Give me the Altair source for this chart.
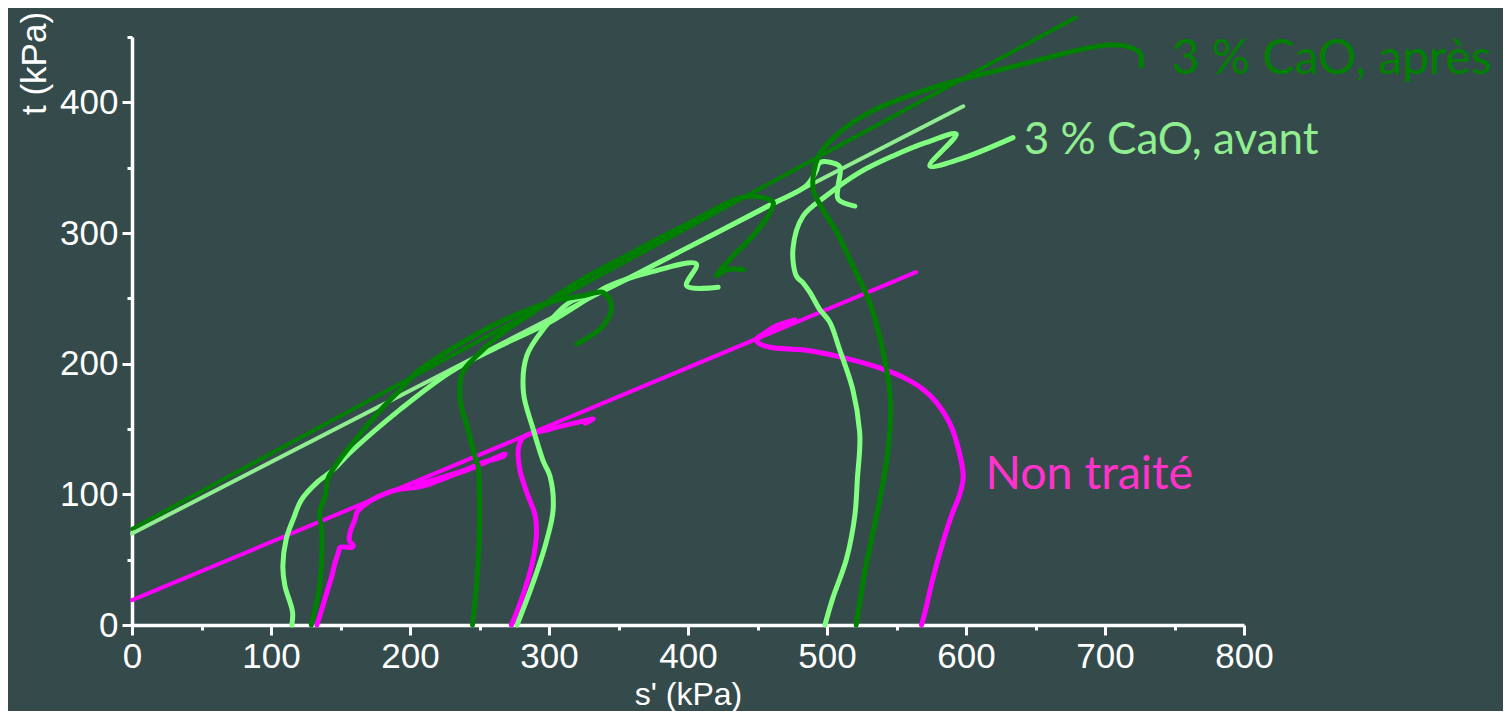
import altair as alt
import pandas as pd

# ---------------- data (s' , t in kPa) ----------------
# failure envelopes
nt_line_s = [0, 564]
nt_line_t = [19, 270]
av_line_s = [0, 598]
av_line_t = [70, 397]
ap_line_s = [0, 679]
ap_line_t = [73.5, 465]

# Non traite stress paths
nt1_s = [133, 136.6, 140.2, 143.8, 146.2, 148.5, 149.7, 158.2, 159.3, 156.4, 156.9, 160.5, 161.8, 166.5,
         176.1, 188.1, 193, 209.4, 228.8, 248.2, 268.4, 267, 252.8, 238.4, 219.3, 205]
nt1_t = [0, 12.2, 25, 37.7, 48, 55.6, 59.4, 59.4, 60.7, 64.5, 70.9, 81.1, 86.2, 91.3,
         97.7, 102.8, 104, 106.3, 114, 121.6, 130.8, 129, 124.5, 118.1, 111.7, 107.5]
nt2_s = [273, 281, 288.5, 291, 290, 284, 279, 278, 281.6, 301, 324.6, 332, 326]
nt2_t = [0, 22, 50, 71, 84, 101.5, 119, 135, 143.8, 150, 156, 157.6, 154.5]
nt3_s = [568, 571, 576, 583, 590, 595.5, 598, 594, 588, 578.6, 569, 554.6, 540, 516, 487.6, 459, 451, 449.5,
         454.6, 463.6, 477, 470]
nt3_t = [0, 12, 35, 62, 85, 100, 114, 137, 155, 170.6, 180.5, 189.7, 196, 203.5, 209.9, 212.6, 215.5, 219,
         223, 229, 233.6, 231]

# 3 % CaO, avant stress paths
av1_s = [115, 115.5, 110, 108.5, 111, 116, 122, 133, 145, 157, 193, 229, 265, 300.6, 334, 341, 373, 406,
         399, 421.7]
av1_t = [0, 10, 30, 45, 66, 81, 96, 109, 119, 132, 165, 193.6, 213.7, 231.8, 254, 258.5, 270, 276.2,
         259.6, 258.4]
av2_s = [277, 288.6, 298, 303, 300.7, 296, 288.6, 281.6, 284, 296, 315, 337, 400, 460, 485, 492, 495,
         509, 508, 508, 520]
av2_t = [0, 32.6, 63.5, 88.7, 114, 125, 150, 178, 206, 226.5, 247, 255, 289, 322, 336, 347, 354,
         351, 336, 326, 320.6]
av3_s = [498.5, 504, 514, 520, 522, 523.5, 523.5, 518.5, 509, 502, 494.6, 487.6, 482.6, 478, 475.5,
         482.8, 499.5, 523.5, 547.5, 571.5, 593, 574, 595.5, 633.8]
av3_t = [0, 20, 50.5, 83.6, 114, 134.6, 147.6, 180.5, 211, 231.8, 241.8, 254.7, 262, 267, 287.7,
         313, 328.5, 346.4, 359, 369.3, 375.7, 351.4, 356.5, 373]

# 3 % CaO, apres stress paths
ap1_s = [129, 135, 136.6, 135, 139, 141, 149.7, 164, 181, 193, 205, 233.6, 264.7, 300.6, 324.5, 339,
         345, 339, 320]
ap1_t = [0, 30, 71, 86, 99, 112, 127, 146, 167, 180, 193.6, 213.7, 231.8, 247, 252, 254.5,
         244, 229, 215]
ap2_s = [245, 248, 250, 250, 249, 248, 241, 236, 238, 248, 267, 288.6, 320, 360, 400, 442, 461.3,
         459, 446.9, 432.5, 420.5, 428, 440]
ap2_t = [0, 33, 73, 99, 122, 124.6, 152.5, 173, 193.6, 206, 224, 239.5, 262, 285, 307, 328, 323.4,
         315.8, 297.9, 282.6, 267.3, 272, 272]
ap3_s = [521, 528, 538, 544, 545.6, 540, 530.7, 518.5, 507, 497, 490, 494, 509, 531, 552.5, 588, 612,
         636, 660, 684, 703, 715, 725, 726]
ap3_t = [0, 45, 96, 134.6, 173, 211, 247, 275, 300.6, 318, 334, 359, 377, 392.5, 402.5, 415, 421.6,
         428, 434.6, 440.7, 443.8, 443, 438, 428]

# annotation labels
label_text = ["Non traité", "3 % CaO, avant", "3 % CaO, après"]
label_s = [614, 641.5, 748]
label_t = [104, 360.5, 421.6]

x_ticks = list(range(0, 801, 50))
y_ticks = list(range(0, 451, 50))

# ---------------- styling ----------------
BG = "#354B4B"
MAG = "#FF00FF"
LGP = "#80FF80"
LGL = "#90EE90"
DG = "#008000"

envelopes = {"nt_line": (nt_line_s, nt_line_t), "av_line": (av_line_s, av_line_t),
             "ap_line": (ap_line_s, ap_line_t)}
paths = {"nt1": (nt1_s, nt1_t), "nt2": (nt2_s, nt2_t), "nt3": (nt3_s, nt3_t),
         "av1": (av1_s, av1_t), "av2": (av2_s, av2_t), "av3": (av3_s, av3_t),
         "ap1": (ap1_s, ap1_t), "ap2": (ap2_s, ap2_t), "ap3": (ap3_s, ap3_t)}

color_domain = ["nt_line", "av_line", "ap_line", "nt1", "nt2", "nt3", "av1", "av2", "av3", "ap1", "ap2", "ap3"]
color_range = [MAG, LGL, DG, MAG, MAG, MAG, LGP, LGP, LGP, DG, DG, DG]


def frame(d):
    rows = []
    for name, (ss, tt) in d.items():
        for i, (s, t) in enumerate(zip(ss, tt)):
            rows.append({"curve": name, "i": i, "s": s, "t": t})
    return pd.DataFrame(rows)


df_env = frame(envelopes)
df_paths = frame(paths)

AX_FONT = "Liberation Sans"
FS = 35
major_test = "datum.value % 100 === 0"

x_axis = alt.Axis(
    values=x_ticks, labelExpr=f"{major_test} ? datum.label : ''", format="d",
    tickSize={"condition": {"test": major_test, "value": 10}, "value": 5},
    tickWidth=3, tickColor="white", domainColor="white", domainWidth=3.5,
    labelColor="white", labelFont=AX_FONT, labelFontSize=FS, labelPadding=4,
    labelFlush=False, labelOverlap=False, grid=False,
    title="s' (kPa)", titleColor="white", titleFont=AX_FONT, titleFontSize=32,
    titleFontWeight="normal", titleX=556, titleY=79, titleBaseline="alphabetic",
    titleAlign="center",
)
y_axis = alt.Axis(
    values=y_ticks, labelExpr=f"{major_test} && datum.value <= 400 ? datum.label : ''", format="d",
    tickSize={"condition": {"test": major_test, "value": 10}, "value": 5},
    tickWidth=3, tickColor="white", domainColor="white", domainWidth=3.5,
    labelColor="white", labelFont=AX_FONT, labelFontSize=FS, labelPadding=4,
    labelFlush=False, labelOverlap=False, grid=False,
    title="t (kPa)", titleColor="white", titleFont=AX_FONT, titleFontSize=FS,
    titleFontWeight="normal", titleX=-98, titleY=26, titleAngle=270,
    titleAlign="center", titleBaseline="middle",
)

xs = alt.Scale(domain=[0, 800], nice=False, zero=False)
ys = alt.Scale(domain=[0, 450], nice=False, zero=False)
X = alt.X("s:Q", scale=xs, axis=x_axis)
Y = alt.Y("t:Q", scale=ys, axis=y_axis)
C = alt.Color("curve:N", scale=alt.Scale(domain=color_domain, range=color_range), legend=None)

env_layer = alt.Chart(df_env).mark_line(strokeWidth=4, clip=False, strokeCap="round").encode(
    x=X, y=Y, color=C, detail="curve:N", order="i:Q")
path_layer = alt.Chart(df_paths).mark_line(strokeWidth=5, clip=False, strokeCap="round",
                                          strokeJoin="round", interpolate="catmull-rom").encode(
    x=X, y=Y, color=C, detail="curve:N", order="i:Q")

label_colors = ["#FF33CC", LGL, DG]
label_sizes = [46.5, 44, 48]
text_layers = []
for txt, s, t, col, fs in zip(label_text, label_s, label_t, label_colors, label_sizes):
    d = pd.DataFrame({"label": [txt], "s": [s], "t": [t]})
    text_layers.append(
        alt.Chart(d).mark_text(align="left", baseline="alphabetic", font="Lato", fontSize=fs,
                               color=col, clip=False).encode(x=X, y=Y, text="label:N")
    )

chart = alt.layer(env_layer, path_layer, *text_layers).properties(
    width=1112, height=588,
    padding={"left": 124, "top": 29, "right": 259, "bottom": 86},
    autosize=alt.AutoSizeParams(type="none"),
    background=BG,
).configure_view(stroke=None)

chart.save("out.html", embed_options={"renderer": "svg", "actions": False})
